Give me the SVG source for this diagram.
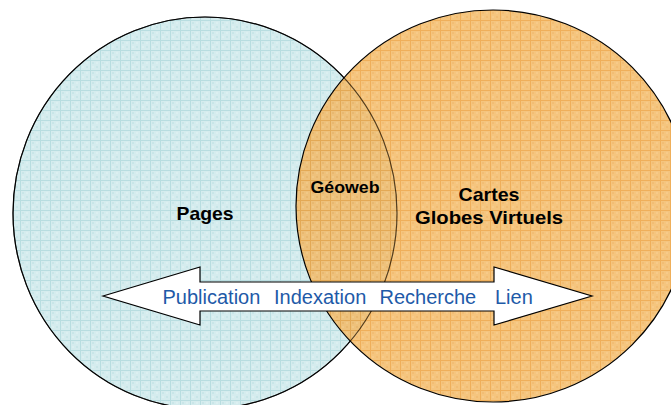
<svg xmlns="http://www.w3.org/2000/svg" width="671" height="405" viewBox="0 0 671 405">
  <style>
    .lbl { font-family: "Liberation Sans", Arial, sans-serif; font-weight: bold; fill: #000; text-anchor: middle; }
    .act { font-family: "Liberation Sans", Arial, sans-serif; font-size: 20px; fill: #1E5AA8; }
    .outline { stroke: #000; stroke-width: 1.2; }
  </style>
  <defs>
    <pattern id="gridBlue" patternUnits="userSpaceOnUse" width="10" height="10">
      <rect width="10" height="10" fill="#d5ecee"/>
      <rect x="2" y="2" width="2" height="2" fill="#c9e6e8"/>
      <rect x="6" y="6" width="2" height="2" fill="#c9e6e8"/>
      <rect x="6" y="2" width="2" height="2" fill="#dcf0f1"/>
      <rect x="2" y="6" width="2" height="2" fill="#dcf0f1"/>
      <rect x="0" y="0" width="10" height="1" fill="#b8dde0"/>
      <rect x="0" y="0" width="1" height="10" fill="#b8dde0"/>
    </pattern>
    <pattern id="gridOrange" patternUnits="userSpaceOnUse" width="10" height="10">
      <rect width="10" height="10" fill="#f3b862"/>
      <rect x="2" y="2" width="2" height="2" fill="#efae55"/>
      <rect x="6" y="6" width="2" height="2" fill="#efae55"/>
      <rect x="6" y="2" width="2" height="2" fill="#f5c070"/>
      <rect x="2" y="6" width="2" height="2" fill="#f5c070"/>
      <rect x="0" y="0" width="10" height="1" fill="#ec9e36"/>
      <rect x="0" y="0" width="1" height="10" fill="#ec9e36"/>
    </pattern>
    <ellipse id="pagesShape" cx="205" cy="213" rx="192" ry="196"/>
  </defs>

  <g id="pages">
    <use href="#pagesShape" class="outline" fill="url(#gridBlue)"/>
    <text class="lbl" x="205" y="219.5" font-size="19" textLength="57" lengthAdjust="spacingAndGlyphs">Pages</text>
  </g>

  <g id="cartes">
    <ellipse class="outline" cx="493" cy="206" rx="197" ry="196" fill="url(#gridOrange)" fill-opacity="0.82"/>
    <use href="#pagesShape" fill="none" stroke="#000" stroke-width="1.1" stroke-opacity="0.6"/>
    <text class="lbl" x="489" y="201" font-size="19" textLength="61" lengthAdjust="spacingAndGlyphs">Cartes</text>
    <text class="lbl" x="489" y="224" font-size="19" textLength="148" lengthAdjust="spacingAndGlyphs">Globes Virtuels</text>
  </g>

  <g id="geoweb">
    <text class="lbl" x="345" y="192.5" font-size="17" textLength="69" lengthAdjust="spacingAndGlyphs">Géoweb</text>
  </g>

  <g id="connectors">
    <polygon class="outline" fill="#fff" stroke-linejoin="miter" points="103,296 200,267 200,282 494,282 494,267 592,296 494,325 494,311 200,311 200,325"/>
  </g>

  <g id="activities">
    <text class="act" x="162.5" y="303.5">Publication</text>
    <text class="act" x="274" y="303.5">Indexation</text>
    <text class="act" x="379.5" y="303.5">Recherche</text>
    <text class="act" x="495" y="303.5">Lien</text>
  </g>
</svg>
